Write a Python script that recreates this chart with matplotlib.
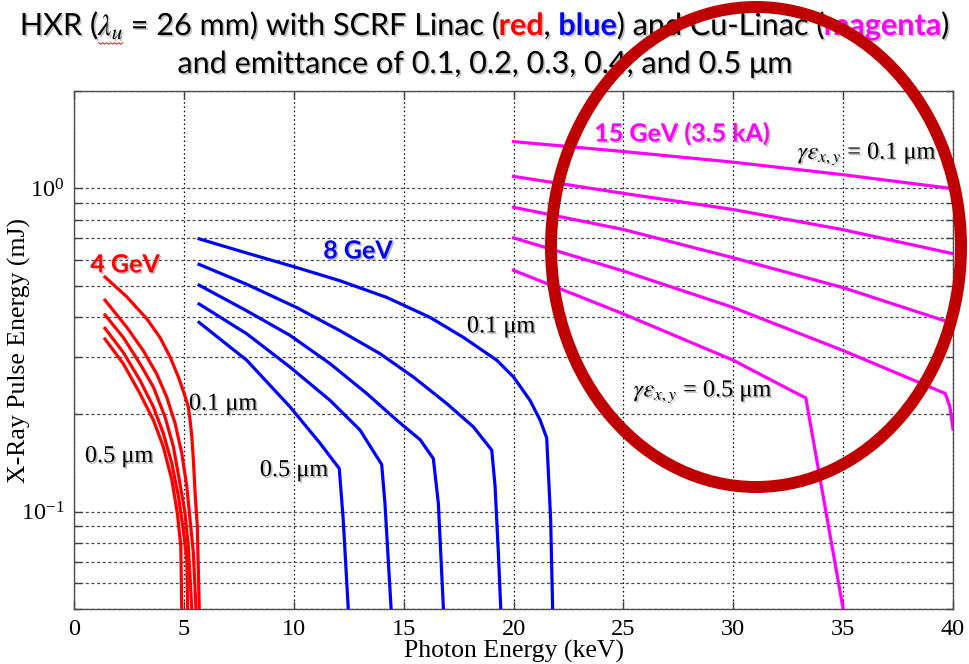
import numpy as np
import matplotlib
matplotlib.use("Agg")
import matplotlib.pyplot as plt
import matplotlib.patheffects as pe
from matplotlib.lines import Line2D
from matplotlib.patches import Ellipse
from matplotlib.ticker import LogLocator, MultipleLocator, NullFormatter

plt.rcParams["font.family"] = ["Liberation Serif", "DejaVu Serif"]
plt.rcParams["mathtext.fontset"] = "stix"

SANS = ["Lato", "DejaVu Sans"]
RED, BLUE, MAGENTA = "#ff0000", "#0000ff", "#ff00ff"
MU = "\u03bc"

# 4 GeV SCRF linac, emittance 0.1 .. 0.5 um (photon energy keV, pulse energy mJ)
RED_X = [
    [1.41, 2.40, 3.31, 3.91, 4.37, 4.75, 5.01, 5.20, 5.28, 5.36, 5.43, 5.51, 5.61, 5.70],
    [1.41, 2.40, 3.15, 3.76, 4.22, 4.60, 4.90, 5.13, 5.28, 5.43, 5.55],
    [1.41, 2.24, 3.00, 3.61, 4.14, 4.52, 4.79, 5.05, 5.20, 5.36],
    [1.41, 2.24, 3.00, 3.61, 4.06, 4.45, 4.75, 4.97, 5.13, 5.17],
    [1.41, 2.24, 3.00, 3.61, 4.06, 4.45, 4.70, 4.86, 4.90],
]
RED_Y = [
    [0.532, 0.462, 0.395, 0.346, 0.301, 0.261, 0.232, 0.211, 0.192, 0.171, 0.145, 0.114, 0.090, 0.050],
    [0.451, 0.372, 0.315, 0.267, 0.226, 0.1875, 0.152, 0.120, 0.0945, 0.0746, 0.050],
    [0.406, 0.346, 0.287, 0.243, 0.1965, 0.159, 0.1255, 0.0991, 0.0782, 0.050],
    [0.369, 0.311, 0.255, 0.211, 0.175, 0.141, 0.1115, 0.088, 0.0712, 0.050],
    [0.342, 0.287, 0.232, 0.192, 0.159, 0.1255, 0.0991, 0.0782, 0.050],
]

# 8 GeV SCRF linac
BLUE_X = [
    [5.69, 7.86, 10.13, 12.10, 14.23, 16.20, 17.72, 19.24, 20.00, 20.75, 21.21, 21.51, 21.58, 21.69, 21.78],
    [5.69, 7.86, 10.13, 12.10, 13.93, 15.44, 16.96, 18.17, 19.01, 19.16, 19.31, 19.42],
    [5.69, 7.86, 9.83, 11.65, 13.32, 14.68, 15.75, 16.35, 16.58, 16.81],
    [5.69, 7.86, 9.83, 11.65, 13.01, 14.00, 14.15, 14.43],
    [5.69, 7.86, 9.83, 11.19, 12.07, 12.25, 12.48],
]
BLUE_Y = [
    [0.698, 0.631, 0.569, 0.518, 0.460, 0.399, 0.346, 0.294, 0.261, 0.221, 0.192, 0.169, 0.135, 0.0945, 0.050],
    [0.582, 0.505, 0.428, 0.363, 0.308, 0.261, 0.216, 0.183, 0.155, 0.120, 0.0746, 0.050],
    [0.502, 0.418, 0.351, 0.287, 0.232, 0.192, 0.167, 0.146, 0.106, 0.050],
    [0.439, 0.355, 0.280, 0.221, 0.179, 0.140, 0.106, 0.050],
    [0.385, 0.294, 0.211, 0.163, 0.136, 0.0945, 0.050],
]

# 15 GeV Cu linac (3.5 kA)
MAG_X = [
    [20.0, 25.0, 30.0, 35.0, 40.0],
    [20.0, 25.0, 30.0, 35.0, 40.0],
    [20.0, 25.0, 30.0, 35.0, 40.0],
    [20.0, 25.0, 30.0, 35.0, 39.65, 39.86, 40.0],
    [20.0, 25.0, 30.0, 32.9, 33.3, 35.0],
]
MAG_Y = [
    [1.395, 1.300, 1.205, 1.102, 0.998],
    [1.089, 0.965, 0.860, 0.745, 0.628],
    [0.874, 0.746, 0.610, 0.493, 0.382],
    [0.703, 0.555, 0.428, 0.315, 0.232, 0.211, 0.180],
    [0.558, 0.409, 0.294, 0.232, 0.225, 0.050],
]

TITLE_1 = [
    ("HXR (", {}),
    (r"$\lambda_u$", {}),
    (" = 26 mm) with SCRF Linac (", {}),
    ("red", {"color": RED, "weight": "bold"}),
    (", ", {}),
    ("blue", {"color": BLUE, "weight": "bold"}),
    (") and Cu-Linac (", {}),
    ("magenta", {"color": MAGENTA, "weight": "bold"}),
    (")", {}),
]
TITLE_2 = [("and emittance of 0.1, 0.2, 0.3, 0.4, and 0.5 " + MU + "m", {})]

SHADOW = [pe.withSimplePatchShadow(offset=(1.2, -1.2), shadow_rgbFace="0.45", alpha=0.45)]


def text_width(fig, renderer, s, **kw):
    # width of s including its spaces, bracketed by bars
    t = fig.text(0, 0, "|" + s + "|", **kw)
    w = t.get_window_extent(renderer).width
    t.remove()
    t = fig.text(0, 0, "||", **kw)
    w -= t.get_window_extent(renderer).width
    t.remove()
    return w


def draw_line(fig, pieces, y, size):
    r = fig.canvas.get_renderer()
    W = fig.bbox.width
    base = {"fontsize": size, "family": SANS}
    widths = [text_width(fig, r, s, **base, **kw) for s, kw in pieces]
    x = (W - sum(widths)) / 2
    texts = []
    for (s, kw), w in zip(pieces, widths):
        lead = s[: len(s) - len(s.lstrip())]
        off = text_width(fig, r, lead, **base, **kw) if lead else 0
        texts.append(fig.text((x + off) / W, y, s.strip(), ha="left", va="baseline",
                              path_effects=SHADOW, **base, **kw))
        x += w
    return texts


def squiggle(fig, text):
    # spell-check style wavy underline below a title piece
    r = fig.canvas.get_renderer()
    bb = text.get_window_extent(r)
    W, H = fig.bbox.width, fig.bbox.height
    xs = np.arange(bb.x0 + 1, bb.x1, 2.0)
    ys = bb.y0 - 1.5 + np.where(np.arange(len(xs)) % 2 == 0, 0.0, -1.5)
    fig.add_artist(Line2D(xs / W, ys / H, transform=fig.transFigure,
                          color="#e03030", lw=0.8))


def main() -> None:
    fig = plt.figure(figsize=(9.69, 6.64), dpi=100)
    ax = fig.add_axes([0.0764, 0.0828, 0.9071, 0.7801])

    for xs_list, ys_list, c in ((RED_X, RED_Y, RED), (BLUE_X, BLUE_Y, BLUE), (MAG_X, MAG_Y, MAGENTA)):
        for xs, ys in zip(xs_list, ys_list):
            ax.plot(xs, ys, color=c, lw=2.3, solid_joinstyle="round", zorder=3)

    ax.set_yscale("log")
    ax.set_xlim(0, 40)
    ax.set_ylim(0.05, 2)
    ax.xaxis.set_major_locator(MultipleLocator(5))
    ax.yaxis.set_major_locator(LogLocator(base=10, numticks=10))
    ax.yaxis.set_minor_locator(LogLocator(base=10, subs=np.arange(2, 10), numticks=10))
    ax.yaxis.set_minor_formatter(NullFormatter())

    ax.grid(axis="x", which="major", color="k", ls=(0, (1.2, 2.2)), lw=0.9)
    ax.grid(axis="y", which="both", color="0.3", ls=(0, (2.5, 2)), lw=0.9)
    ax.tick_params(which="both", direction="in", top=True, right=True, colors="0.25",
                   labelcolor="k", labelsize=17.5)
    ax.tick_params(which="major", length=6, width=1, pad=7)
    ax.tick_params(which="minor", length=5, width=1)
    for sp in ax.spines.values():
        sp.set_color("0.3")
        sp.set_linewidth(1.0)

    ax.set_xlabel("Photon Energy (keV)", fontsize=18.5)
    ax.set_ylabel("X-Ray Pulse Energy (mJ)", fontsize=18.5)
    ax.xaxis.set_label_coords(0.5, -0.060)
    ax.yaxis.set_label_coords(-0.049, 0.5)

    bold = dict(family=SANS, weight="bold", fontsize=18, ha="center", va="center",
                path_effects=SHADOW, zorder=4)
    ax.text(2.32, 0.58, "4 GeV", color=RED, **bold)
    ax.text(12.92, 0.64, "8 GeV", color=BLUE, **bold)
    ax.text(27.67, 1.476, "15 GeV (3.5 kA)", color=MAGENTA, **bold)

    serif = dict(fontsize=17.5, ha="center", va="center", path_effects=SHADOW, zorder=4)
    ax.text(6.78, 0.215, "0.1 " + MU + "m", **serif)
    ax.text(2.05, 0.148, "0.5 " + MU + "m", **serif)
    ax.text(19.43, 0.373, "0.1 " + MU + "m", **serif)
    ax.text(10.01, 0.134, "0.5 " + MU + "m", **serif)
    ax.text(36.09, 1.272, r"$\gamma\varepsilon_{x,y}$ = 0.1 " + MU + "m", **serif)
    ax.text(28.62, 0.234, r"$\gamma\varepsilon_{x,y}$ = 0.5 " + MU + "m", **serif)

    line1 = draw_line(fig, TITLE_1, 1 - 35 / 664, 22)
    draw_line(fig, TITLE_2, 1 - 73 / 664, 22)
    squiggle(fig, line1[1])

    # highlight ring around the Cu-linac curves
    ring = Ellipse((756 / 969, 1 - 247 / 664), 410 / 969, 480 / 664,
                   transform=fig.transFigure, fill=False, edgecolor="#c00000",
                   lw=8.6, zorder=10, clip_on=False)
    fig.add_artist(ring)

    fig.savefig("out.png", dpi=100)


if __name__ == "__main__":
    main()
